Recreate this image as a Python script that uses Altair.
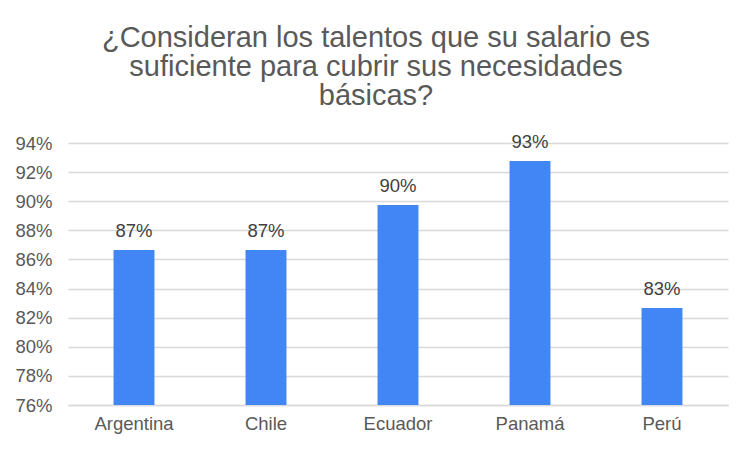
import altair as alt
import pandas as pd

countries = ["Argentina", "Chile", "Ecuador", "Panamá", "Perú"]
values = [0.8665, 0.8665, 0.8974, 0.9276, 0.8266]
y_ticks = [0.76, 0.78, 0.80, 0.82, 0.84, 0.86, 0.88, 0.90, 0.92, 0.94]

df = pd.DataFrame({"pais": countries, "valor": values})

FONT = "Liberation Sans"
GREY = "#595959"

x = alt.X("pais:N", sort=countries, title=None,
          scale=alt.Scale(paddingInner=0.69, paddingOuter=0.345),
          axis=alt.Axis(labelAngle=0, ticks=False, domain=True, domainColor="#D9D9D9",
                        domainWidth=1.5, labelFontSize=18.5, labelColor=GREY,
                        labelFont=FONT, labelPadding=9, grid=False))
y = alt.Y("valor:Q", title=None,
          scale=alt.Scale(domain=[0.76, 0.94], zero=False, nice=False),
          axis=alt.Axis(values=y_ticks, format=".0%", ticks=False, domain=False,
                        gridColor="#D9D9D9", gridWidth=1.5, labelFontSize=18.5,
                        labelColor=GREY, labelFont=FONT, labelPadding=16,
                        labelOverlap=False))

base = alt.Chart(df).encode(x=x, y=y)
bars = base.mark_bar(color="#4285F4", clip=True)
labels = base.mark_text(baseline="alphabetic", dy=-13, fontSize=18.5,
                        font=FONT, color="#404040").encode(
    text=alt.Text("valor:Q", format=".0%"))

chart = (bars + labels).properties(
    width=660, height=262,
    background="white",
    autosize=alt.AutoSizeParams(type="none"),
    padding={"left": 60, "top": 135, "right": 16, "bottom": 39},
    title=alt.TitleParams(
        ["¿Consideran los talentos que su salario es",
         "suficiente para cubrir sus necesidades",
         "básicas?"],
        fontSize=29, font=FONT, color=GREY, fontWeight="normal",
        lineHeight=29, anchor="middle", dx=-22, offset=22),
).configure_view(stroke=None).configure_axisY(tickCount=10)

chart.save("out.html", embed_options={"renderer": "svg", "actions": False})
